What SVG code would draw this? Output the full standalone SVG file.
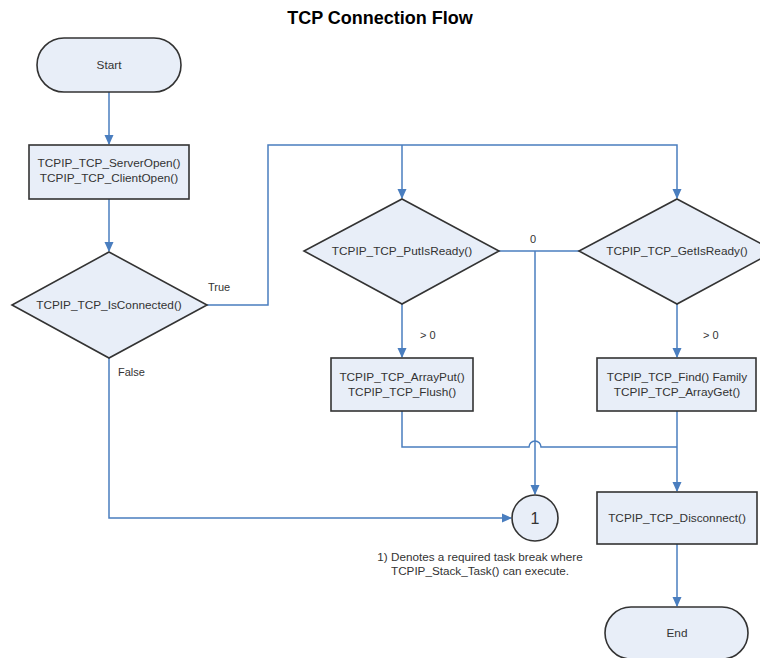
<svg xmlns="http://www.w3.org/2000/svg" width="760" height="658" viewBox="0 0 760 658">
<style>
.shape{fill:#e8eef8;stroke:#333;stroke-width:1.6}
.t{font-family:"Liberation Sans",Arial,sans-serif;font-size:11.8px;fill:#333;text-anchor:middle}
.lbl{font-family:"Liberation Sans",Arial,sans-serif;font-size:11px;fill:#333}
.note{font-family:"Liberation Sans",Arial,sans-serif;font-size:11.7px;fill:#333;text-anchor:middle}
.c{fill:none;stroke:#4a7ebf;stroke-width:1.5}
</style>
<defs>
<marker id="ah" markerWidth="10" markerHeight="10" refX="9" refY="5" orient="auto" markerUnits="userSpaceOnUse">
<path d="M0,0.5 L10,5 L0,9.5 Z" fill="#4a7ebf"/>
</marker>
</defs>
<rect width="760" height="658" fill="#fff"/>
<text x="380" y="24" font-family="Liberation Sans,Arial,sans-serif" font-size="18" font-weight="bold" text-anchor="middle" fill="#000">TCP Connection Flow</text>
<g id="connectors">
<path class="c" d="M109,92 V144" marker-end="url(#ah)"/>
<path class="c" d="M109,199 V251" marker-end="url(#ah)"/>
<path class="c" d="M207,305 H268 V145 H677 V198" marker-end="url(#ah)"/>
<path class="c" d="M402,145 V198" marker-end="url(#ah)"/>
<path class="c" d="M402,304 V357" marker-end="url(#ah)"/>
<path class="c" d="M677,304 V357" marker-end="url(#ah)"/>
<path class="c" d="M499,251 H579"/>
<path class="c" d="M535,251 V494" marker-end="url(#ah)"/>
<path class="c" d="M402,411 V447 H529 A6,6 0 0 1 541,447 H677"/>
<path class="c" d="M677,411 V491" marker-end="url(#ah)"/>
<path class="c" d="M109,358 V518 H511" marker-end="url(#ah)"/>
<path class="c" d="M677,544 V606" marker-end="url(#ah)"/>
</g>
<g id="start">
<rect class="shape" x="37" y="38" width="144" height="54" rx="27"/>
<text class="t" x="109" y="69">Start</text>
</g>
<g id="open">
<rect class="shape" x="29" y="145" width="160" height="54"/>
<text class="t" x="109" y="167">TCPIP_TCP_ServerOpen()</text>
<text class="t" x="109" y="182">TCPIP_TCP_ClientOpen()</text>
</g>
<g id="isconnected">
<polygon class="shape" points="109,252 207,305 109,358 12,305"/>
<text class="t" x="109" y="309">TCPIP_TCP_IsConnected()</text>
</g>
<g id="putisready">
<polygon class="shape" points="402,199 499,251 402,304 304,251"/>
<text class="t" x="402" y="255">TCPIP_TCP_PutIsReady()</text>
</g>
<g id="getisready">
<polygon class="shape" points="677,199 775,251 677,304 579,251"/>
<text class="t" x="677" y="255">TCPIP_TCP_GetIsReady()</text>
</g>
<g id="arrayput">
<rect class="shape" x="331" y="358" width="142" height="53"/>
<text class="t" x="402" y="381">TCPIP_TCP_ArrayPut()</text>
<text class="t" x="402" y="396">TCPIP_TCP_Flush()</text>
</g>
<g id="find">
<rect class="shape" x="597" y="358" width="159" height="53"/>
<text class="t" x="677" y="381">TCPIP_TCP_Find() Family</text>
<text class="t" x="677" y="396">TCPIP_TCP_ArrayGet()</text>
</g>
<g id="disconnect">
<rect class="shape" x="597" y="492" width="160" height="52"/>
<text class="t" x="677" y="522">TCPIP_TCP_Disconnect()</text>
</g>
<g id="taskbreak">
<circle class="shape" cx="535" cy="518" r="23"/>
<text x="535" y="524" font-family="Liberation Sans,Arial,sans-serif" font-size="16" text-anchor="middle" fill="#333">1</text>
</g>
<g id="end">
<rect class="shape" x="605" y="607" width="143" height="52" rx="26"/>
<text class="t" x="677" y="637">End</text>
</g>
<g id="labels">
<text class="lbl" x="208" y="291">True</text>
<text class="lbl" x="118" y="376">False</text>
<text class="lbl" x="530" y="243">0</text>
<text class="lbl" x="420" y="339">&gt; 0</text>
<text class="lbl" x="703" y="339">&gt; 0</text>
<text class="note" x="480" y="561">1) Denotes a required task break where</text>
<text class="note" x="480" y="575">TCPIP_Stack_Task() can execute.</text>
</g>
</svg>
